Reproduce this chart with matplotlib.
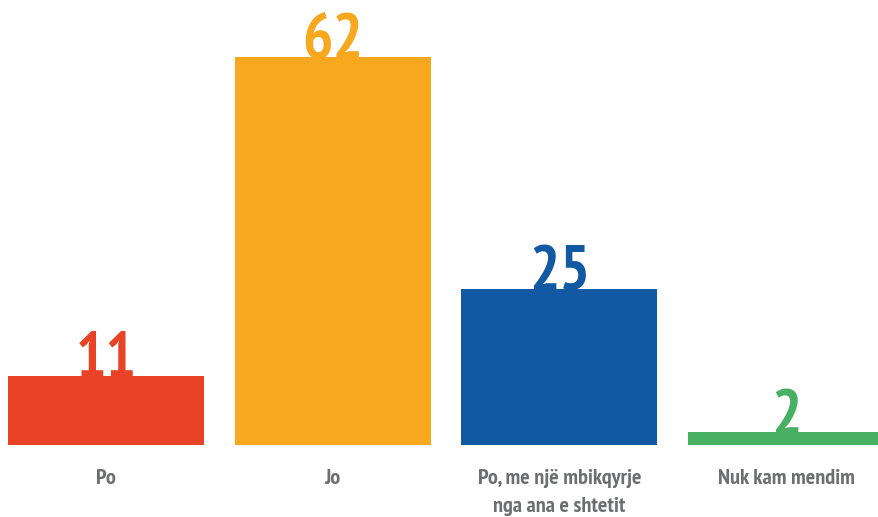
import matplotlib.pyplot as plt

categories = ['Po', 'Jo', 'Po, me një mbikqyrje\nnga ana e shtetit', 'Nuk kam mendim']
values = [11, 62, 25, 2]
colors = ['#E84326', '#F7A81E', '#1259A4', '#47B063']

family = ['PT Sans Narrow', 'DejaVu Sans']

fig = plt.figure(figsize=(8.79, 5.17), dpi=100)
ax = fig.add_axes([0, 0.1393, 1, 0.8607])

x = list(range(len(values)))
ax.bar(x, values, width=0.865, color=colors)

for xi, v, c, cat in zip(x, values, colors, categories):
    ax.text(xi, v - 0.2, str(v), ha='center', va='baseline', color=c,
            fontsize=46, fontweight='bold', family=family)
    ax.text(xi, -3.9, cat, ha='center', va='top', color='#6D6E70',
            fontsize=16, fontweight='bold', family=family, linespacing=1.6)

ax.set_xlim(-0.467, 3.41)
ax.set_ylim(0, 71.1)
ax.axis('off')

fig.savefig('out.png', dpi=100)
